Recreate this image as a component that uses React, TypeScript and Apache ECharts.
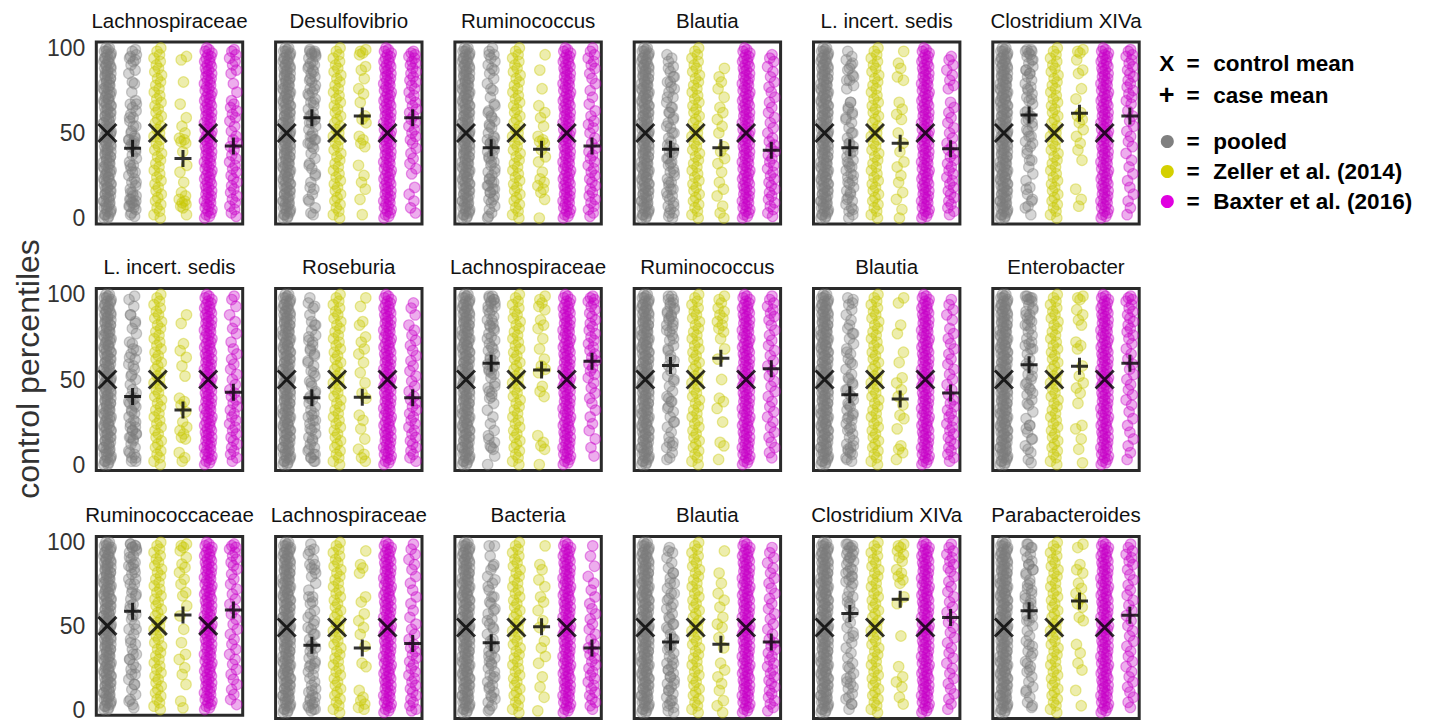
import React, { useEffect, useRef } from 'react';
import * as echarts from 'echarts';

// ---------- data ----------
const PANEL_TITLES = [
  'Lachnospiraceae', 'Desulfovibrio', 'Ruminococcus', 'Blautia', 'L. incert. sedis', 'Clostridium XIVa',
  'L. incert. sedis', 'Roseburia', 'Lachnospiraceae', 'Ruminococcus', 'Blautia', 'Enterobacter',
  'Ruminococcaceae', 'Lachnospiraceae', 'Bacteria', 'Blautia', 'Clostridium XIVa', 'Parabacteroides',
];

// strip order on the x axis (index = x position)
const STRIPS = ['pooled control', 'pooled case', 'Zeller control', 'Zeller case', 'Baxter control', 'Baxter case'];

const Y_TICKS = [0, 50, 100];

// control percentiles (same for every genus)
const ZELLER_CONTROL = [0, 2, 4, 6, 8, 10, 12, 14, 16, 18, 20, 22, 24, 26, 28, 30, 32, 34, 36, 38, 40, 42, 44, 46, 48, 50, 52, 54, 56, 58, 60, 62, 64, 66, 68, 70, 72, 74, 76, 78, 80, 82, 84, 86, 88, 90, 92, 94, 96, 98, 100];
const BAXTER_CONTROL = [0, 1, 2, 3, 4, 5, 6, 7, 8, 9, 10, 11, 12, 13, 14, 15, 16, 17, 18, 19, 20, 21, 22, 23, 24, 25, 26, 27, 28, 29, 30, 31, 32, 33, 34, 35, 36, 37, 38, 39, 40, 41, 42, 43, 44, 45, 46, 47, 48, 49, 50, 51, 52, 53, 54, 55, 56, 57, 58, 59, 60, 61, 62, 63, 64, 65, 66, 67, 68, 69, 70, 71, 72, 73, 74, 75, 76, 77, 78, 79, 80, 81, 82, 83, 84, 85, 86, 87, 88, 89, 90, 91, 92, 93, 94, 95, 96, 97, 98, 99, 100];

// case percentiles, one list per panel
const ZELLER_CASE = [
  [95, 93, 80, 67, 59, 54, 50, 47, 46, 45, 44, 39, 31, 27, 21, 15, 13, 11, 10, 9, 8, 7, 6, 2],
  [99, 98, 97, 96, 89, 87, 82, 76, 73, 68, 60, 58, 56, 48, 46, 44, 42, 31, 25, 21, 17, 11, 2],
  [96, 87, 76, 66, 62, 59, 54, 48, 46, 45, 44, 40, 36, 33, 27, 23, 21, 19, 17, 15, 11, 0],
  [88, 83, 80, 76, 71, 65, 62, 58, 54, 50, 42, 39, 35, 32, 27, 21, 17, 13, 7, 3, 0],
  [98, 91, 88, 83, 81, 68, 64, 61, 58, 50, 44, 39, 33, 30, 25, 21, 15, 11, 5, 0],
  [99, 98, 97, 93, 87, 85, 76, 70, 62, 60, 58, 56, 52, 48, 44, 40, 34, 17, 11, 7],
  [88, 83, 71, 67, 63, 58, 52, 39, 37, 35, 31, 25, 22, 20, 18, 16, 15, 7, 4, 2],
  [98, 93, 84, 82, 75, 72, 68, 65, 60, 54, 48, 42, 39, 29, 26, 21, 15, 9, 6, 4, 2],
  [99, 97, 95, 93, 91, 85, 82, 80, 74, 68, 62, 58, 56, 54, 46, 43, 40, 17, 13, 11, 9, 0],
  [99, 97, 95, 92, 90, 88, 86, 84, 82, 80, 78, 74, 68, 62, 50, 39, 37, 33, 25, 13, 11, 3],
  [98, 95, 82, 77, 66, 60, 51, 48, 44, 40, 35, 29, 27, 21, 11, 9, 7, 3],
  [99, 98, 97, 91, 88, 85, 82, 72, 70, 68, 58, 52, 48, 45, 42, 36, 23, 21, 15, 9, 1],
  [99, 98, 97, 95, 91, 87, 85, 82, 78, 75, 70, 68, 62, 56, 48, 40, 33, 30, 25, 21, 15, 5, 1],
  [95, 87, 85, 82, 68, 65, 58, 54, 50, 46, 39, 29, 27, 13, 9, 7, 5, 3, 2],
  [98, 87, 84, 78, 74, 68, 65, 60, 54, 50, 42, 38, 33, 29, 21, 15, 9, 1],
  [95, 82, 76, 70, 66, 62, 56, 52, 50, 44, 38, 29, 25, 21, 17, 13, 7, 4, 0],
  [99, 98, 97, 95, 93, 91, 89, 84, 82, 80, 78, 76, 68, 64, 45, 27, 21, 18, 15, 9, 5],
  [99, 97, 87, 84, 82, 76, 73, 70, 67, 64, 62, 56, 54, 40, 35, 29, 25, 13, 4],
];

const BAXTER_CASE = [
  [99, 98, 96, 94, 92, 90, 87, 85, 79, 74, 69, 67, 65, 63, 61, 59, 57, 54, 51, 48, 46, 44, 42, 40, 37, 35, 33, 31, 29, 27, 25, 23, 21, 19, 17, 15, 13, 11, 9, 7, 5, 3, 1],
  [98, 97, 96, 95, 94, 92, 91, 90, 88, 86, 85, 83, 81, 80, 78, 76, 74, 72, 70, 68, 66, 64, 62, 60, 58, 56, 54, 52, 50, 48, 46, 44, 41, 38, 35, 32, 29, 26, 18, 14, 10, 6, 3],
  [100, 98, 96, 94, 92, 90, 88, 85, 82, 79, 75, 71, 67, 63, 60, 57, 55, 53, 50, 47, 44, 41, 39, 37, 35, 33, 31, 29, 27, 25, 23, 21, 19, 17, 15, 13, 11, 9, 7, 5, 3, 1],
  [96, 94, 92, 89, 86, 83, 80, 77, 74, 71, 68, 65, 62, 59, 56, 53, 50, 47, 45, 43, 41, 39, 37, 35, 33, 31, 29, 27, 25, 23, 21, 19, 17, 15, 13, 11, 9, 7, 5, 3, 1],
  [95, 93, 90, 87, 84, 81, 78, 76, 68, 65, 62, 59, 56, 53, 50, 47, 44, 42, 40, 38, 36, 34, 32, 30, 28, 26, 24, 22, 20, 18, 16, 14, 12, 10, 8, 6, 4, 2],
  [99, 98, 96, 95, 93, 91, 89, 87, 85, 83, 81, 79, 77, 75, 73, 71, 69, 67, 63, 60, 57, 54, 51, 48, 45, 42, 38, 34, 30, 26, 22, 18, 14, 10, 6, 2],
  [99, 97, 93, 88, 84, 80, 77, 72, 68, 65, 62, 59, 56, 53, 50, 47, 44, 42, 40, 38, 36, 34, 32, 30, 28, 26, 24, 22, 20, 18, 16, 14, 12, 10, 8, 6, 4, 2],
  [95, 92, 88, 82, 79, 76, 73, 70, 67, 64, 61, 58, 55, 52, 49, 46, 43, 40, 38, 36, 34, 32, 30, 28, 26, 24, 22, 20, 18, 16, 14, 12, 10, 8, 6, 4, 2],
  [99, 98, 97, 96, 95, 93, 91, 89, 87, 85, 83, 81, 79, 77, 75, 73, 71, 69, 67, 65, 63, 61, 59, 57, 55, 53, 51, 48, 45, 42, 39, 36, 32, 28, 24, 20, 15, 10, 5],
  [99, 97, 95, 93, 91, 89, 87, 85, 82, 79, 76, 73, 70, 67, 64, 61, 58, 55, 52, 49, 46, 43, 40, 37, 34, 31, 28, 25, 22, 19, 16, 13, 10, 7, 4],
  [97, 94, 91, 88, 85, 80, 77, 74, 71, 68, 65, 62, 59, 56, 53, 50, 47, 44, 41, 38, 36, 34, 32, 30, 28, 26, 24, 22, 20, 18, 16, 14, 12, 10, 8, 6, 4, 2],
  [99, 98, 97, 96, 94, 92, 90, 88, 86, 84, 82, 80, 78, 76, 74, 71, 68, 65, 62, 59, 56, 53, 50, 47, 44, 41, 38, 35, 31, 27, 23, 19, 15, 11, 7, 3],
  [99, 98, 97, 96, 94, 92, 90, 88, 86, 84, 81, 78, 75, 72, 69, 66, 63, 60, 57, 54, 51, 48, 45, 42, 39, 36, 33, 30, 27, 24, 21, 18, 15, 12, 9, 6, 3],
  [99, 96, 93, 90, 87, 84, 80, 76, 72, 68, 64, 60, 56, 52, 49, 46, 43, 40, 38, 36, 34, 32, 30, 28, 26, 24, 22, 20, 18, 16, 14, 12, 10, 8, 6, 4, 2, 1],
  [98, 92, 86, 80, 76, 72, 68, 64, 61, 58, 55, 52, 49, 46, 43, 40, 38, 36, 34, 32, 30, 28, 26, 24, 22, 20, 18, 16, 14, 12, 10, 8, 6, 4, 2],
  [97, 94, 91, 88, 85, 82, 79, 76, 73, 70, 67, 64, 61, 58, 55, 52, 49, 46, 43, 41, 39, 37, 35, 33, 31, 29, 27, 25, 23, 21, 19, 17, 15, 13, 11, 9, 7, 5, 3, 1],
  [99, 97, 95, 93, 91, 89, 87, 85, 83, 80, 77, 74, 71, 68, 65, 62, 59, 56, 53, 50, 47, 44, 41, 38, 35, 32, 29, 26, 23, 20, 17, 14, 11, 8, 5, 2],
  [99, 97, 95, 93, 91, 89, 87, 84, 81, 78, 75, 72, 69, 66, 63, 60, 57, 54, 51, 48, 45, 42, 39, 36, 33, 30, 27, 24, 21, 18, 15, 12, 9, 6, 3],
];

// means (X = control, + = case)
const CONTROL_MEAN = [50, 50, 50, 50, 50, 50, 50, 50, 50, 50, 50, 50, 50, 50, 50, 50, 50, 50];
const POOLED_CASE_MEAN = [41, 59, 41.4, 40.4, 41.4, 60.6, 40, 39.2, 59.6, 58.2, 41, 58.6, 58.8, 39.6, 41, 41.5, 58.2, 59.8];
const ZELLER_CASE_MEAN = [35, 60, 40.4, 41.4, 44, 61.6, 32, 39.6, 55.6, 62.5, 38.6, 57.8, 56.6, 38, 50.4, 40.2, 66.6, 65.6];
const BAXTER_CASE_MEAN = [42.4, 59, 42.4, 39.8, 40.8, 60, 42.5, 39.2, 60.8, 56.3, 42, 59.6, 59.6, 40.6, 38, 41.5, 55.9, 57.2];

// ---------- style / layout ----------
const FONT = '"Liberation Sans", Arial, Helvetica, sans-serif';
const JITTER = [0.02, -0.11, 0.13, -0.04, 0.08, -0.14, 0.05, -0.08, 0.11, -0.01, 0.15, -0.12, 0.03, -0.06, 0.1, -0.15, 0.07, -0.03, 0.12, -0.09, 0.0, 0.14, -0.07];
const GRID_LEFT0 = 96.3;
const COL_PITCH = 179.3;
const GRID_W = 146.4;
const ROW_TOPS = [42, 288.5, 536.5];
const GRID_H = 182;

const COLORS = {
  pooled: { fill: 'rgba(125,125,125,0.4)', stroke: 'rgba(125,125,125,0.5)' },
  zeller: { fill: 'rgba(200,200,0,0.4)', stroke: 'rgba(200,200,0,0.5)' },
  baxter: { fill: 'rgba(200,0,200,0.4)', stroke: 'rgba(200,0,200,0.5)' },
};

const X_PATH = 'path://M0,0L10,10M10,0L0,10';
const PLUS_PATH = 'path://M5,0L5,10M0,5L10,5';

function strip(vals: number[], k: number) {
  return vals.map((v, i) => [k + JITTER[(i + k * 7) % JITTER.length], v]);
}

function buildOption() {
  const grid: any[] = [];
  const xAxis: any[] = [];
  const yAxis: any[] = [];
  const series: any[] = [];
  const graphic: any[] = [];

  PANEL_TITLES.forEach((title, p) => {
    const r = Math.floor(p / 6);
    const c = p % 6;
    const left = GRID_LEFT0 + c * COL_PITCH;
    const top = ROW_TOPS[r];
    grid.push({ left, top, width: GRID_W, height: GRID_H, show: true, borderColor: '#2a2a2a', borderWidth: 3, backgroundColor: '#fff' });
    xAxis.push({ type: 'value', gridIndex: p, min: -0.44, max: 5.37, show: false });
    yAxis.push({
      type: 'value', gridIndex: p, min: -3.5, max: 103.5,
      axisLine: { show: false }, axisTick: { show: false }, splitLine: { show: false },
      axisLabel: c === 0
        ? { show: true, customValues: Y_TICKS, fontSize: 23, color: '#333', margin: 11, fontFamily: FONT }
        : { show: false },
    });
    graphic.push({
      type: 'text', x: left + GRID_W / 2, y: top - 22, silent: true,
      style: { text: title, fontSize: 20.5, fontFamily: FONT, fill: '#111', align: 'center', verticalAlign: 'middle' },
    });

    const zc = ZELLER_CASE[p];
    const bc = BAXTER_CASE[p];
    const pooledControl = ZELLER_CONTROL.concat(BAXTER_CONTROL);
    const pooledCase = zc.concat(bc);
    const common = { type: 'scatter', xAxisIndex: p, yAxisIndex: p, symbol: 'circle', symbolSize: 10.5, silent: true, z: 2 };
    series.push({ ...common, name: 'pooled', data: [...strip(pooledControl, 0), ...strip(pooledCase, 1)],
      itemStyle: { color: COLORS.pooled.fill, borderColor: COLORS.pooled.stroke, borderWidth: 1.2 } });
    series.push({ ...common, name: 'Zeller et al. (2014)', data: [...strip(ZELLER_CONTROL, 2), ...strip(zc, 3)],
      itemStyle: { color: COLORS.zeller.fill, borderColor: COLORS.zeller.stroke, borderWidth: 1.2 } });
    series.push({ ...common, name: 'Baxter et al. (2016)', data: [...strip(BAXTER_CONTROL, 4), ...strip(bc, 5)],
      itemStyle: { color: COLORS.baxter.fill, borderColor: COLORS.baxter.stroke, borderWidth: 1.2 } });
    series.push({
      type: 'scatter', name: 'control mean', xAxisIndex: p, yAxisIndex: p, silent: true, z: 5,
      symbol: X_PATH, symbolSize: 18,
      itemStyle: { color: 'rgba(0,0,0,0)', borderColor: '#000', borderWidth: 3 },
      data: [[0, CONTROL_MEAN[p]], [2, CONTROL_MEAN[p]], [4, CONTROL_MEAN[p]]],
    });
    series.push({
      type: 'scatter', name: 'case mean', xAxisIndex: p, yAxisIndex: p, silent: true, z: 5,
      symbol: PLUS_PATH, symbolSize: 17,
      itemStyle: { color: 'rgba(0,0,0,0)', borderColor: '#000', borderWidth: 3 },
      data: [[1, POOLED_CASE_MEAN[p]], [3, ZELLER_CASE_MEAN[p]], [5, BAXTER_CASE_MEAN[p]]],
    });
  });

  // y axis title
  graphic.push({
    type: 'text', x: 28, y: 369, rotation: Math.PI / 2, silent: true,
    style: { text: 'control percentiles', fontSize: 32, fontFamily: FONT, fill: '#333', align: 'center', verticalAlign: 'middle' },
  });

  // legend
  const legendFont = { fontSize: 22.5, fontWeight: 'bold', fontFamily: FONT, fill: '#000', verticalAlign: 'middle' };
  const rows = [
    { y: 63, sym: 'X', label: 'control mean' },
    { y: 95, sym: '+', label: 'case mean' },
    { y: 141.5, dot: '#808080', label: 'pooled' },
    { y: 171.5, dot: '#d4d000', label: 'Zeller et al. (2014)' },
    { y: 201.5, dot: '#e000e0', label: 'Baxter et al. (2016)' },
  ];
  rows.forEach((row: any) => {
    if (row.sym) {
      graphic.push({ type: 'text', x: 1166.7, y: row.y, silent: true, style: { ...legendFont, text: row.sym, align: 'center', fontSize: row.sym === '+' ? 27 : 22.5 } });
    } else {
      graphic.push({ type: 'circle', shape: { cx: 1167.3, cy: row.y, r: 6.5 }, silent: true, style: { fill: row.dot } });
    }
    graphic.push({ type: 'text', x: 1193, y: row.y, silent: true, style: { ...legendFont, text: '=', align: 'center' } });
    graphic.push({ type: 'text', x: 1213.3, y: row.y, silent: true, style: { ...legendFont, text: row.label, align: 'left' } });
  });

  return { animation: false, backgroundColor: '#fff', grid, xAxis, yAxis, series, graphic };
}

export default function App() {
  const ref = useRef<HTMLDivElement>(null);
  useEffect(() => {
    const chart = echarts.init(ref.current as HTMLDivElement, null, { renderer: 'svg' });
    chart.setOption(buildOption() as any);
    return () => chart.dispose();
  }, []);
  return <div ref={ref} style={{ position: 'fixed', left: 0, top: 0, width: 1438, height: 721, background: '#fff' }} />;
}
